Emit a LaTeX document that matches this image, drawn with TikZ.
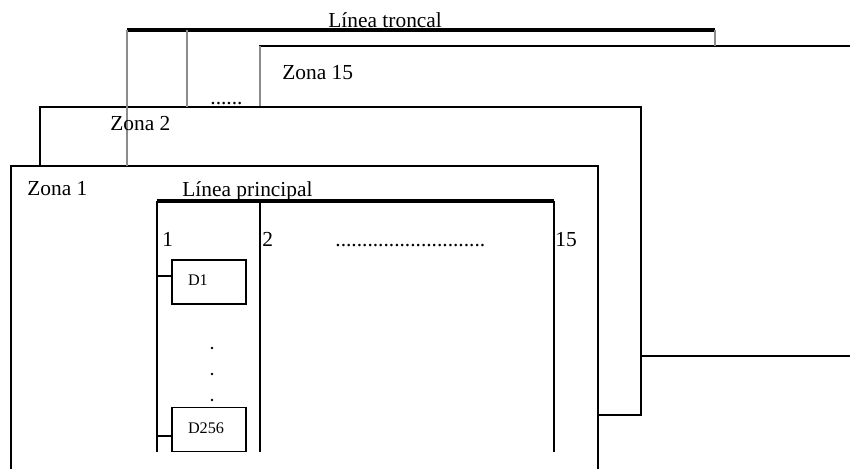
\documentclass[tikz,border=0pt]{standalone}
\usepackage{fontspec}
\setmainfont{Liberation Serif}
\usetikzlibrary{positioning}
\tikzset{
  zone/.style={draw=black,fill=white,line width=0.55pt},
  bus/.style={line width=2.2pt},
  wire/.style={line width=0.55pt},
  drop/.style={black!45,line width=0.6pt},
  lbl/.style={anchor=base west,inner sep=0pt,font=\fontsize{10.7}{12}\selectfont},
  dev/.style={draw,line width=0.55pt,minimum width=37pt,minimum height=22pt,
    text width=21pt,inner xsep=8pt,align=left,text depth=1.5pt,
    font=\fontsize{8.1}{9}\selectfont}
}
\begin{document}
\begin{tikzpicture}[x=0.5pt,y=-0.5pt]
\clip (0,0) rectangle (850,469);
\fill[white] (0,0) rectangle (850,469);
% zones, back to front
\draw[zone] (260,46) rectangle (900,356);
\draw[drop] (260,46) -- (260,107);
\draw[zone] (40,107) rectangle (641,415);
\draw[zone] (11,166) rectangle (598,520);
% trunk line and its drops
\coordinate (t0) at (127,30);
\coordinate (t1) at (187,30);
\coordinate (t2) at (715,30);
\draw[bus] (t0) -- (t2);
\draw[drop] (t0) -- (127,166);
\draw[drop] (t1) -- (187,107);
\draw[drop] (t2) -- (715,46);
\node[lbl] (troncal) at (328,28) {Línea troncal};
\node[lbl] (dots15) at (210,105) {......};
\node[lbl] (z15) at (282,80) {Zona 15};
\node[lbl] (z2) at (110,131) {Zona 2};
\node[lbl] (z1) at (27,196) {Zona 1};
% main line of zone 1
\coordinate (p1) at (157,201);
\coordinate (p2) at (260,201);
\coordinate (p15) at (554,201);
\draw[bus] (p1) -- (p15);
\draw[wire] (p1) -- (157,452);
\draw[wire] (p2) -- (260,452);
\draw[wire] (p15) -- (554,452);
\node[lbl] (principal) at (182,197) {Línea principal};
\node[lbl] (n1) at (162,247) {1};
\node[lbl] (n2) at (262,247) {2};
\node[lbl] (ndots) at (335,247) {............................};
\node[lbl] (n15) at (555,247) {15};
% devices
\node[dev] (d1) at (209,282) {D1};
\node[dev] (d256) at (209,429.5) {D256};
\coordinate (s1) at (157,276);
\coordinate (s256) at (157,436);
\draw[wire] (s1) -- (s1 -| d1.west);
\draw[wire] (s256) -- (s256 -| d256.west);
\fill (212,348) circle (1.4);
\fill (212,374) circle (1.4);
\fill (212,400) circle (1.4);
\end{tikzpicture}
\end{document}
